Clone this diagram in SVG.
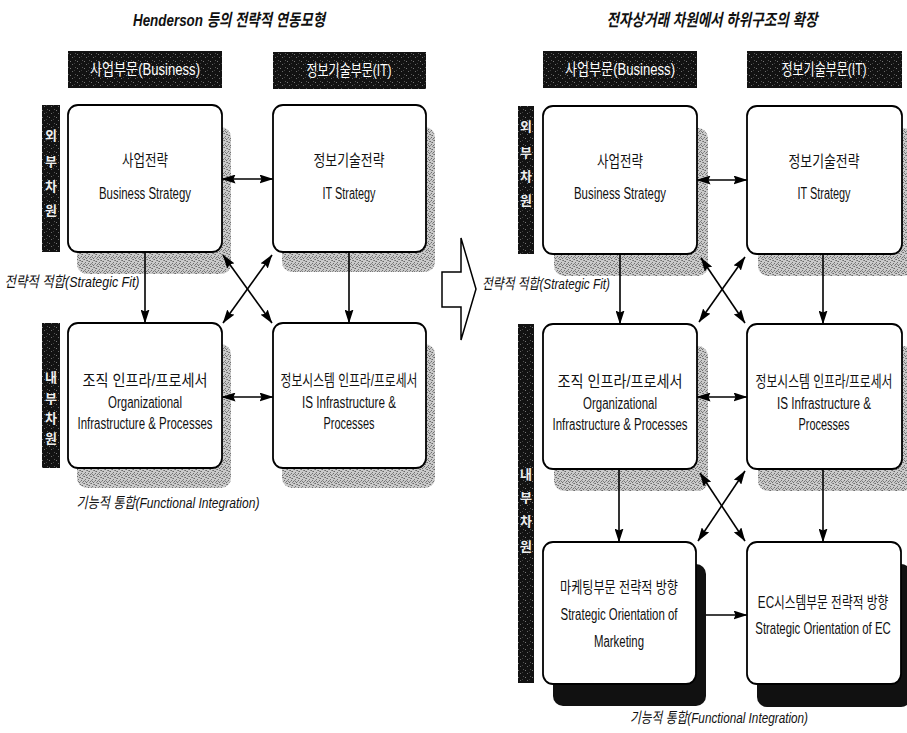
<svg xmlns="http://www.w3.org/2000/svg" width="907" height="733" viewBox="0 0 907 733">
<style>
.bg{fill:#fff}
.t{font-family:"Liberation Sans","Noto Sans CJK KR",sans-serif;font-size:16px;text-anchor:middle;fill:#111}
.ti{font-family:"Liberation Sans","Noto Sans CJK KR",sans-serif;font-size:17px;font-weight:bold;font-style:italic;text-anchor:middle;fill:#111}
.lab{font-family:"Liberation Sans","Noto Sans CJK KR",sans-serif;font-size:15px;font-style:italic;text-anchor:middle;fill:#111}
.w{font-family:"Liberation Sans","Noto Sans CJK KR",sans-serif;font-size:16px;text-anchor:middle;fill:#fff}
.bw{font-family:"Liberation Sans","Noto Sans CJK KR",sans-serif;font-size:13px;font-weight:bold;text-anchor:middle;fill:#eee}
.box{fill:#fff;stroke:#000;stroke-width:1.8}
.sh{fill:url(#half)}
.shb{fill:#111}
.dark{fill:url(#dk)}
.conn line{stroke:#000;stroke-width:1.6;fill:none}
.dbl{marker-start:url(#ah);marker-end:url(#ah)}
.one{marker-end:url(#ah)}
</style>
<defs>
<pattern id="half" width="7" height="7" patternUnits="userSpaceOnUse">
<rect width="7" height="7" fill="#cacaca"/>
<rect x="0" y="0" width="1" height="1" fill="#6a6a6a"/>
<rect x="3" y="1" width="1" height="1" fill="#707070"/>
<rect x="5" y="2" width="1" height="1" fill="#666"/>
<rect x="1" y="3" width="1" height="1" fill="#747474"/>
<rect x="4" y="4" width="1" height="1" fill="#6c6c6c"/>
<rect x="6" y="5" width="1" height="1" fill="#707070"/>
<rect x="2" y="6" width="1" height="1" fill="#686868"/>
<rect x="5" y="6" width="1" height="1" fill="#8a8a8a"/>
<rect x="2" y="1" width="1" height="1" fill="#8c8c8c"/>
<rect x="6" y="0" width="1" height="1" fill="#909090"/>
<rect x="0" y="4" width="1" height="1" fill="#888"/>
<rect x="3" y="5" width="1" height="1" fill="#929292"/>
<rect x="4" y="2" width="1" height="1" fill="#959595"/>
<rect x="1" y="5" width="1" height="1" fill="#7c7c7c"/>
</pattern>
<pattern id="dk" width="7" height="7" patternUnits="userSpaceOnUse">
<rect width="7" height="7" fill="#121212"/>
<rect x="2" y="1" width="1" height="1" fill="#6a6a6a"/>
<rect x="5" y="4" width="1" height="1" fill="#555"/>
<rect x="0" y="5" width="1" height="1" fill="#777"/>
<rect x="4" y="0" width="1" height="1" fill="#3c3c3c"/>
</pattern>
<marker id="ah" viewBox="0 0 14 9" refX="13.5" refY="4.5" markerWidth="14" markerHeight="9" markerUnits="userSpaceOnUse" orient="auto-start-reverse">
<path d="M0,0 L14,4.5 L0,9 L2,4.5 z" fill="#000"/>
</marker>
</defs>
<rect class="bg" width="907" height="733"/>

<!-- LEFT DIAGRAM -->
<text class="ti" x="229" y="26" textLength="192" lengthAdjust="spacingAndGlyphs">Henderson 등의 전략적 연동모형</text>
<g id="hdr-left-business">
<rect class="dark" x="68" y="51" width="154" height="37"/>
<text class="w" x="145" y="75" textLength="110" lengthAdjust="spacingAndGlyphs">사업부문(Business)</text>
</g>
<g id="hdr-left-it">
<rect class="dark" x="273" y="52" width="153" height="37"/>
<text class="w" x="349" y="76" textLength="85" lengthAdjust="spacingAndGlyphs">정보기술부문(IT)</text>
</g>
<g id="bar-left-outer">
<rect class="dark" x="42" y="105" width="18" height="147"/>
<text class="bw" x="51" y="140">외</text>
<text class="bw" x="51" y="166">부</text>
<text class="bw" x="51" y="191">차</text>
<text class="bw" x="51" y="215">원</text>
</g>
<g id="bar-left-inner">
<rect class="dark" x="42" y="323" width="18" height="145"/>
<text class="bw" x="51" y="382">내</text>
<text class="bw" x="51" y="403">부</text>
<text class="bw" x="51" y="423">차</text>
<text class="bw" x="51" y="443">원</text>
</g>

<g id="L-bs">
<rect class="sh" x="77" y="127" width="154" height="147" rx="10"/>
<rect class="box" x="68" y="105" width="154" height="147" rx="10"/>
<text class="t" x="145" y="166" textLength="46" lengthAdjust="spacingAndGlyphs">사업전략</text>
<text class="t" x="145" y="199" textLength="92" lengthAdjust="spacingAndGlyphs">Business Strategy</text>
</g>
<g id="L-it">
<rect class="sh" x="282" y="127" width="153" height="145" rx="10"/>
<rect class="box" x="273" y="105" width="153" height="147" rx="10"/>
<text class="t" x="349" y="166" textLength="71" lengthAdjust="spacingAndGlyphs">정보기술전략</text>
<text class="t" x="349" y="199" textLength="53" lengthAdjust="spacingAndGlyphs">IT Strategy</text>
</g>
<g id="L-org">
<rect class="sh" x="77" y="344" width="154" height="144" rx="10"/>
<rect class="box" x="68" y="323" width="154" height="145" rx="10"/>
<text class="t" x="145" y="386" textLength="125" lengthAdjust="spacingAndGlyphs">조직 인프라/프로세서</text>
<text class="t" x="145" y="408" textLength="74" lengthAdjust="spacingAndGlyphs">Organizational</text>
<text class="t" x="145" y="429" textLength="135" lengthAdjust="spacingAndGlyphs">Infrastructure &amp; Processes</text>
</g>
<g id="L-is">
<rect class="sh" x="282" y="344" width="153" height="144" rx="10"/>
<rect class="box" x="273" y="323" width="153" height="145" rx="10"/>
<text class="t" transform="translate(349,386) scale(0.72,1)" textLength="190" lengthAdjust="spacingAndGlyphs">정보시스템 인프라/프로세서</text>
<text class="t" x="349" y="408" textLength="94" lengthAdjust="spacingAndGlyphs">IS Infrastructure &amp;</text>
<text class="t" x="349" y="429" textLength="51" lengthAdjust="spacingAndGlyphs">Processes</text>
</g>
<text class="lab" x="72" y="287" textLength="135" lengthAdjust="spacingAndGlyphs">전략적 적합(Strategic Fit)</text>
<text class="lab" x="168" y="508" textLength="183" lengthAdjust="spacingAndGlyphs">기능적 통합(Functional Integration)</text>

<!-- transition arrow -->
<g id="transition">
<polygon points="442,272 461,272 461,238 476,289 461,340 461,307 442,307" fill="#fff" stroke="#000" stroke-width="1.5"/>
</g>

<!-- RIGHT DIAGRAM -->
<text class="ti" x="712" y="26" textLength="211" lengthAdjust="spacingAndGlyphs">전자상거래 차원에서 하위구조의 확장</text>
<g id="hdr-right-business">
<rect class="dark" x="543" y="51" width="154" height="37"/>
<text class="w" x="620" y="75" textLength="110" lengthAdjust="spacingAndGlyphs">사업부문(Business)</text>
</g>
<g id="hdr-right-it">
<rect class="dark" x="747" y="51" width="155" height="37"/>
<text class="w" x="824" y="75" textLength="85" lengthAdjust="spacingAndGlyphs">정보기술부문(IT)</text>
</g>
<g id="bar-right-outer">
<rect class="dark" x="518" y="106" width="16" height="148"/>
<text class="bw" x="526" y="131">외</text>
<text class="bw" x="526" y="157">부</text>
<text class="bw" x="526" y="181">차</text>
<text class="bw" x="526" y="205">원</text>
</g>
<g id="bar-right-inner">
<rect class="dark" x="518" y="324" width="16" height="359"/>
<text class="bw" x="526" y="479">내</text>
<text class="bw" x="526" y="502">부</text>
<text class="bw" x="526" y="526">차</text>
<text class="bw" x="526" y="551">원</text>
</g>

<g id="R-bs">
<rect class="sh" x="554" y="128" width="154" height="148" rx="10"/>
<rect class="box" x="543" y="106" width="154" height="148" rx="10"/>
<text class="t" x="620" y="167" textLength="46" lengthAdjust="spacingAndGlyphs">사업전략</text>
<text class="t" x="620" y="199" textLength="92" lengthAdjust="spacingAndGlyphs">Business Strategy</text>
</g>
<g id="R-it">
<rect class="sh" x="758" y="128" width="155" height="148" rx="10"/>
<rect class="box" x="747" y="106" width="155" height="148" rx="10"/>
<text class="t" x="824" y="167" textLength="71" lengthAdjust="spacingAndGlyphs">정보기술전략</text>
<text class="t" x="824" y="199" textLength="53" lengthAdjust="spacingAndGlyphs">IT Strategy</text>
</g>
<g id="R-org">
<rect class="sh" x="554" y="346" width="154" height="145" rx="10"/>
<rect class="box" x="543" y="324" width="154" height="145" rx="10"/>
<text class="t" x="620" y="387" textLength="125" lengthAdjust="spacingAndGlyphs">조직 인프라/프로세서</text>
<text class="t" x="620" y="409" textLength="74" lengthAdjust="spacingAndGlyphs">Organizational</text>
<text class="t" x="620" y="430" textLength="135" lengthAdjust="spacingAndGlyphs">Infrastructure &amp; Processes</text>
</g>
<g id="R-is">
<rect class="sh" x="758" y="346" width="155" height="145" rx="10"/>
<rect class="box" x="747" y="324" width="155" height="145" rx="10"/>
<text class="t" transform="translate(824,387) scale(0.72,1)" textLength="190" lengthAdjust="spacingAndGlyphs">정보시스템 인프라/프로세서</text>
<text class="t" x="824" y="409" textLength="94" lengthAdjust="spacingAndGlyphs">IS Infrastructure &amp;</text>
<text class="t" x="824" y="430" textLength="51" lengthAdjust="spacingAndGlyphs">Processes</text>
</g>
<g id="R-mkt">
<rect class="shb" x="553" y="564" width="153" height="142" rx="10"/>
<rect class="box" x="543" y="542" width="153" height="142" rx="10"/>
<text class="t" x="619" y="593" textLength="118" lengthAdjust="spacingAndGlyphs">마케팅부문 전략적 방향</text>
<text class="t" x="619" y="620" textLength="117" lengthAdjust="spacingAndGlyphs">Strategic Orientation of</text>
<text class="t" x="619" y="647" textLength="50" lengthAdjust="spacingAndGlyphs">Marketing</text>
</g>
<g id="R-ec">
<rect class="shb" x="757" y="564" width="154" height="143" rx="10"/>
<rect class="box" x="747" y="542" width="154" height="142" rx="10"/>
<text class="t" transform="translate(823,608) scale(0.72,1)" textLength="181" lengthAdjust="spacingAndGlyphs">EC시스템부문 전략적 방향</text>
<text class="t" transform="translate(823,634) scale(0.72,1)" textLength="188" lengthAdjust="spacingAndGlyphs">Strategic Orientation of EC</text>
</g>
<text class="lab" x="546" y="289" textLength="128" lengthAdjust="spacingAndGlyphs">전략적 적합(Strategic Fit)</text>
<text class="lab" x="719" y="723" textLength="178" lengthAdjust="spacingAndGlyphs">기능적 통합(Functional Integration)</text>

<g id="connectors" class="conn">
<!-- left -->
<line class="dbl" x1="222" y1="179" x2="273" y2="179"/>
<line class="dbl" x1="222" y1="397" x2="273" y2="397"/>
<line class="one" x1="145" y1="252" x2="145" y2="323"/>
<line class="one" x1="349" y1="252" x2="349" y2="323"/>
<line class="dbl" x1="223" y1="255" x2="272" y2="323"/>
<line class="dbl" x1="272" y1="255" x2="223" y2="323"/>
<!-- right -->
<line class="dbl" x1="697" y1="180" x2="747" y2="180"/>
<line class="dbl" x1="697" y1="397" x2="747" y2="397"/>
<line class="one" x1="706" y1="615" x2="747" y2="615"/>
<line class="one" x1="620" y1="254" x2="620" y2="324"/>
<line class="one" x1="823" y1="254" x2="823" y2="324"/>
<line class="one" x1="619" y1="469" x2="619" y2="542"/>
<line class="one" x1="823" y1="469" x2="823" y2="542"/>
<line class="dbl" x1="701" y1="258" x2="745" y2="323"/>
<line class="dbl" x1="745" y1="257" x2="699" y2="322"/>
<line class="dbl" x1="700" y1="473" x2="745" y2="541"/>
<line class="dbl" x1="745" y1="471" x2="698" y2="541"/>
</g>
</svg>
